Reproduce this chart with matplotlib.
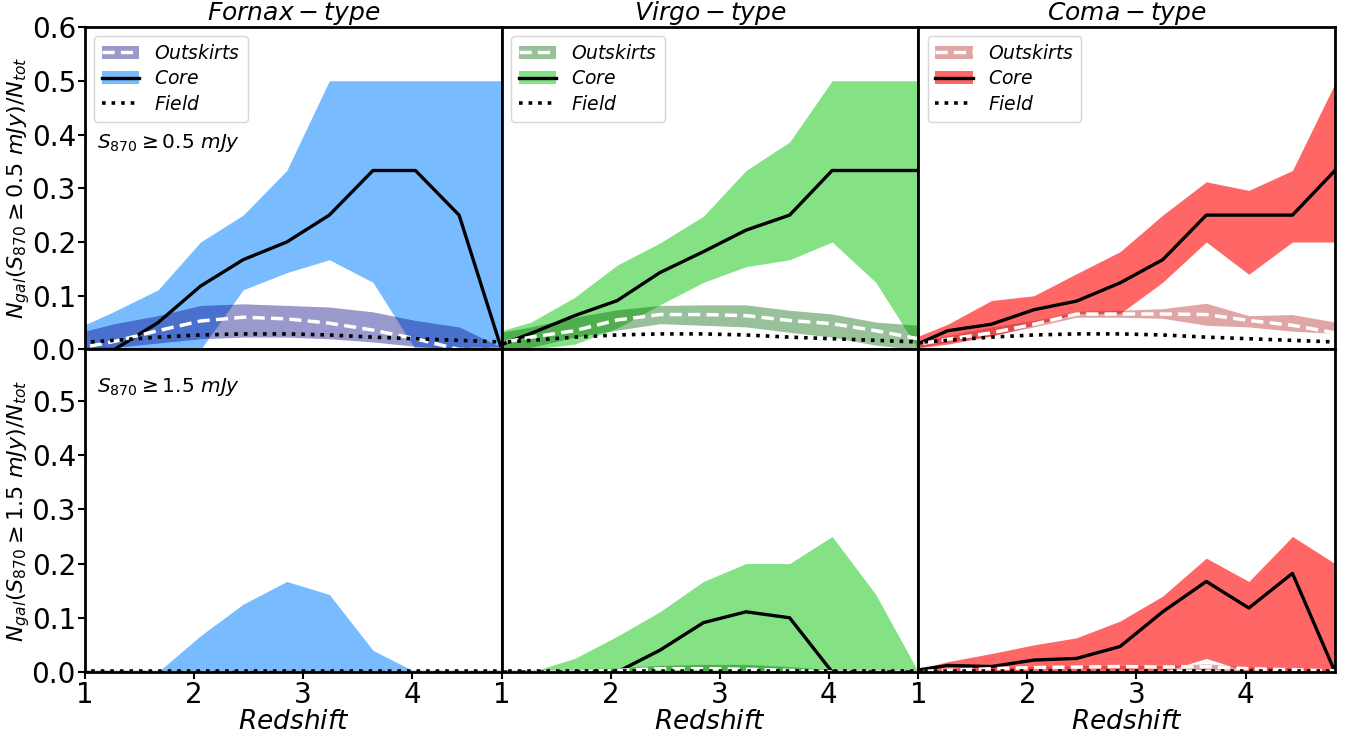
import numpy as np
import matplotlib
matplotlib.use('Agg')
import matplotlib.pyplot as plt

# redshift bin centres (first one sits just left of the plotted range)
z = [0.88, 1.27, 1.67, 2.06, 2.45, 2.85, 3.24, 3.64, 4.03, 4.43, 4.82]

env_names = ['Fornax-type', 'Virgo-type', 'Coma-type']
core_cols = ['dodgerblue', 'limegreen', 'red']
out_cols = ['navy', 'darkgreen', 'firebrick']
cuts = ['0.5', '1.5']

# ---- S870 >= 0.5 mJy ----
core_med_05 = [
    [0.0, 0.0, 0.05, 0.118, 0.167, 0.2, 0.25, 0.333, 0.333, 0.25, 0.0],
    [0.0, 0.03, 0.063, 0.091, 0.143, 0.182, 0.222, 0.25, 0.333, 0.333, 0.333],
    [0.0, 0.035, 0.047, 0.074, 0.09, 0.124, 0.167, 0.25, 0.25, 0.25, 0.333],
]
core_hi_05 = [
    [0.035, 0.071, 0.111, 0.2, 0.25, 0.333, 0.5, 0.5, 0.5, 0.5, 0.5],
    [0.028, 0.051, 0.097, 0.157, 0.198, 0.248, 0.333, 0.386, 0.5, 0.5, 0.5],
    [0.015, 0.047, 0.091, 0.1, 0.141, 0.182, 0.25, 0.312, 0.296, 0.333, 0.495],
]
core_lo_05 = [
    [0.0, 0.0, 0.0, 0.0, 0.111, 0.143, 0.167, 0.125, 0.0, 0.0, 0.0],
    [0.0, 0.0, 0.01, 0.04, 0.083, 0.125, 0.154, 0.167, 0.2, 0.125, 0.0],
    [0.0, 0.01, 0.025, 0.045, 0.067, 0.067, 0.125, 0.2, 0.14, 0.2, 0.2],
]
out_med_05 = [
    [0.0, 0.015, 0.035, 0.053, 0.06, 0.057, 0.049, 0.036, 0.02, 0.0, 0.0],
    [0.008, 0.023, 0.035, 0.055, 0.065, 0.065, 0.063, 0.054, 0.048, 0.035, 0.02],
    [0.006, 0.019, 0.031, 0.047, 0.066, 0.066, 0.066, 0.065, 0.054, 0.045, 0.031],
]
out_hi_05 = [
    [0.028, 0.048, 0.063, 0.082, 0.085, 0.082, 0.079, 0.07, 0.054, 0.042, 0.004],
    [0.028, 0.042, 0.06, 0.074, 0.082, 0.083, 0.083, 0.073, 0.066, 0.051, 0.045],
    [0.01, 0.026, 0.042, 0.054, 0.071, 0.073, 0.076, 0.086, 0.063, 0.065, 0.051],
]
out_lo_05 = [
    [0.0, 0.004, 0.012, 0.02, 0.023, 0.023, 0.02, 0.014, 0.006, 0.0, 0.0],
    [0.0, 0.004, 0.023, 0.036, 0.048, 0.045, 0.042, 0.032, 0.023, 0.008, 0.0],
    [0.0, 0.014, 0.026, 0.042, 0.06, 0.06, 0.058, 0.045, 0.042, 0.034, 0.03],
]
field_05 = [0.012, 0.017, 0.023, 0.027, 0.029, 0.029, 0.027, 0.023, 0.02, 0.017, 0.014]

# ---- S870 >= 1.5 mJy ----
core_med_15 = [
    [0.0, 0.0, 0.0, 0.0, 0.0, 0.0, 0.0, 0.0, 0.0, 0.0, 0.0],
    [0.0, 0.0, 0.0, 0.0, 0.04, 0.091, 0.111, 0.1, 0.0, 0.0, 0.0],
    [0.0, 0.012, 0.01, 0.022, 0.025, 0.047, 0.111, 0.167, 0.118, 0.182, 0.0],
]
core_hi_15 = [
    [0.0, 0.0, 0.0, 0.067, 0.125, 0.167, 0.143, 0.04, 0.0, 0.0, 0.0],
    [0.0, 0.0, 0.025, 0.066, 0.111, 0.167, 0.2, 0.2, 0.25, 0.143, 0.0],
    [0.0, 0.019, 0.034, 0.05, 0.063, 0.094, 0.14, 0.21, 0.167, 0.25, 0.2],
]
core_lo_15 = [
    [0.0, 0.0, 0.0, 0.0, 0.0, 0.0, 0.0, 0.0, 0.0, 0.0, 0.0],
    [0.0, 0.0, 0.0, 0.0, 0.0, 0.0, 0.0, 0.0, 0.0, 0.0, 0.0],
    [0.0, 0.0, 0.0, 0.0, 0.0, 0.0, 0.0, 0.025, 0.0, 0.0, 0.0],
]
out_med_15 = [
    [0.0, 0.0, 0.0, 0.0, 0.0, 0.0, 0.0, 0.0, 0.0, 0.0, 0.0],
    [0.0, 0.0, 0.0, 0.003, 0.006, 0.006, 0.005, 0.003, 0.0, 0.0, 0.0],
    [0.0, 0.003, 0.006, 0.008, 0.009, 0.01, 0.009, 0.01, 0.006, 0.004, 0.002],
]
out_hi_15 = [
    [0.0, 0.0, 0.0, 0.0, 0.0, 0.0, 0.0, 0.0, 0.0, 0.0, 0.0],
    [0.0, 0.0, 0.003, 0.008, 0.012, 0.014, 0.014, 0.01, 0.004, 0.0, 0.0],
    [0.0, 0.005, 0.008, 0.01, 0.012, 0.012, 0.012, 0.015, 0.01, 0.008, 0.005],
]
out_lo_15 = [
    [0.0, 0.0, 0.0, 0.0, 0.0, 0.0, 0.0, 0.0, 0.0, 0.0, 0.0],
    [0.0, 0.0, 0.0, 0.0, 0.0, 0.0, 0.0, 0.0, 0.0, 0.0, 0.0],
    [0.0, 0.0, 0.003, 0.005, 0.006, 0.006, 0.006, 0.004, 0.002, 0.0, 0.0],
]
field_15 = [0.001, 0.001, 0.001, 0.001, 0.001, 0.001, 0.001, 0.001, 0.001, 0.001, 0.001]

rows = [
    (core_med_05, core_lo_05, core_hi_05, out_med_05, out_lo_05, out_hi_05, field_05),
    (core_med_15, core_lo_15, core_hi_15, out_med_15, out_lo_15, out_hi_15, field_15),
]

fig, axes = plt.subplots(2, 3, figsize=(13.53, 7.36), dpi=100)
fig.subplots_adjust(left=0.0628, right=0.9867, top=0.9633, bottom=0.087,
                    wspace=0, hspace=0)

for r in range(2):
    cmed, clo, chi, omed, olo, ohi, fld = rows[r]
    for c in range(3):
        ax = axes[r, c]
        pc = ax.fill_between(z, clo[c], chi[c], color=core_cols[c], alpha=0.6, lw=0)
        po = ax.fill_between(z, olo[c], ohi[c], color=out_cols[c], alpha=0.4, lw=0)
        lc, = ax.plot(z, cmed[c], color='k', lw=2.4)
        lo, = ax.plot(z, omed[c], color='white', lw=2.5, ls='--', dashes=(3.5, 1.8))
        lf, = ax.plot(z, fld, color='k', lw=2.6, ls=':')

        ax.set_xlim(1, 4.82)
        ax.set_ylim(0, 0.6 if r == 0 else 0.595)
        ax.set_xticks([1, 2, 3, 4])
        ax.set_yticks([0, 0.1, 0.2, 0.3, 0.4, 0.5, 0.6] if r == 0 else [0, 0.1, 0.2, 0.3, 0.4, 0.5])
        for s in ax.spines.values():
            s.set_linewidth(2)
        ax.tick_params(labelsize=20, width=1.5, length=5, direction='out', pad=1.5)
        if c > 0:
            ax.tick_params(left=False, labelleft=False)
        if r == 0:
            ax.tick_params(bottom=False, labelbottom=False)
            ax.set_title('$' + env_names[c] + '$', fontsize=18, pad=0.5)
            ax.legend([(po, lo), (pc, lc), lf], ['$Outskirts$', '$Core$', '$Field$'],
                      loc='upper left', fontsize=13.5, handlelength=2.0,
                      borderpad=0.4, labelspacing=0.35)
        else:
            ax.set_xlabel('$Redshift$', fontsize=19, labelpad=0)
        if c == 0:
            ax.set_ylabel(r'$N_{gal}(S_{870} \geq ' + cuts[r] + r'\ mJy)/N_{tot}$', fontsize=16, labelpad=0)
            ax.text(0.03, 0.64 if r == 0 else 0.885, r'$S_{870} \geq ' + cuts[r] + r'\ mJy$',
                    transform=ax.transAxes, fontsize=14.5, va='center')

fig.savefig('out.png', dpi=100)
